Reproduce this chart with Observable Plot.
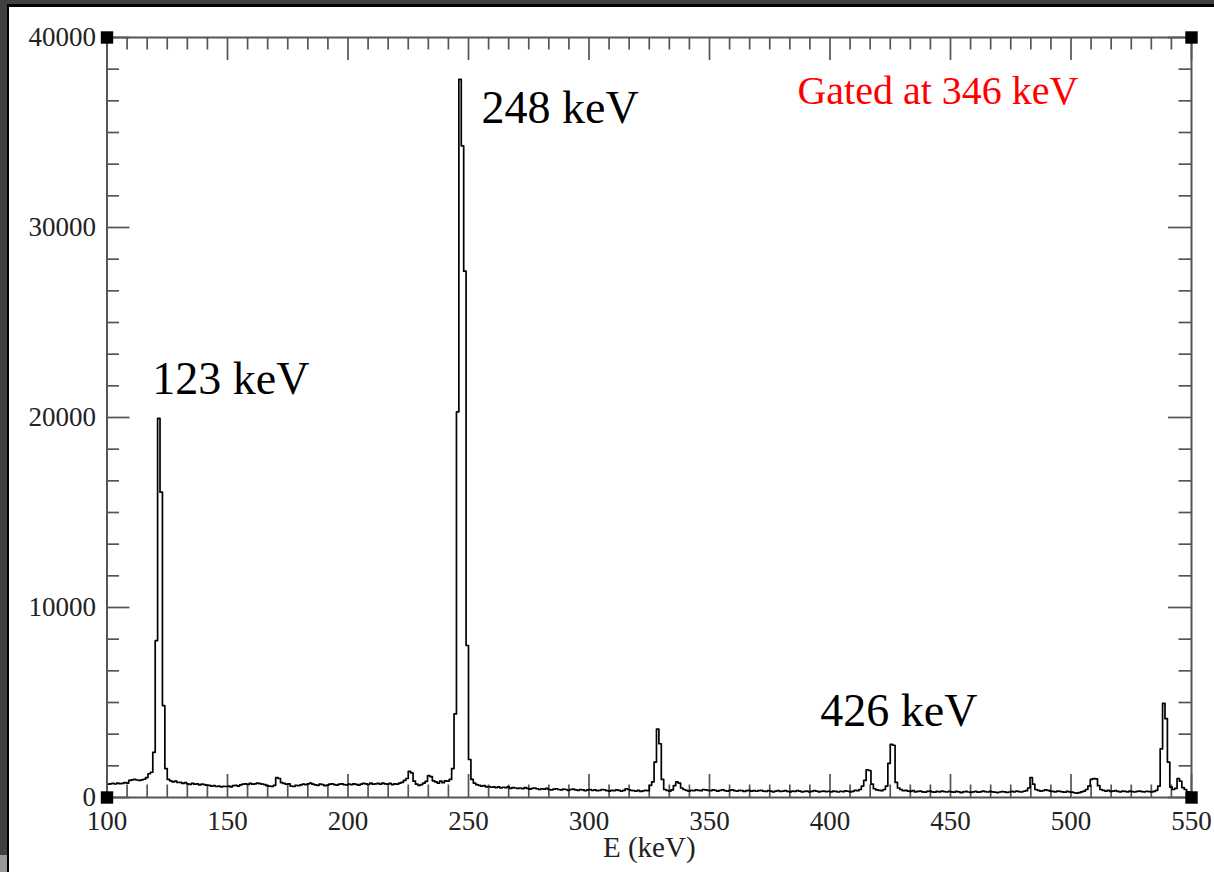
<!DOCTYPE html>
<html>
<head>
<meta charset="utf-8">
<script src="https://cdn.jsdelivr.net/npm/d3@7"></script>
<script src="https://cdn.jsdelivr.net/npm/@observablehq/plot@0.6"></script>
<style>
  html, body { margin: 0; padding: 0; background: #fff; }
  #wrap { position: relative; width: 1214px; height: 872px; overflow: hidden; background: #fff; }
  #chart { position: absolute; left: 0; top: 0; }
  #chart svg, #chart svg text { font-family: "Liberation Serif", "DejaVu Serif", serif !important; }
  .bd { position: absolute; }
</style>
</head>
<body>
<div id="wrap">
  <div id="chart"></div>
  <div class="bd" style="left:0;top:0;width:1214px;height:4px;background:#404040"></div>
  <div class="bd" style="left:0;top:4px;width:1214px;height:2.5px;background:#000"></div>
  <div class="bd" style="left:0;top:0;width:6.5px;height:855px;background:#404040"></div>
  <div class="bd" style="left:0;top:855px;width:6.5px;height:17px;background:#9a9a9a"></div>
  <div class="bd" style="left:6.5px;top:4px;width:2px;height:868px;background:#000"></div>
</div>
<script>
// Energy bins (keV, 1 keV wide), starting at 100 keV
const binStart = 100;
const counts = [
  700, 720, 740, 710, 760, 730, 740, 780, 760, 900,        // 100
  930, 950, 920, 900, 930, 960, 1050, 1250, 1330, 2380,    // 110
  8260, 19950, 16070, 4840, 1520, 950, 880, 820, 860, 790, // 120
  800, 740, 780, 720, 690, 740, 700, 720, 660, 700,        // 130
  680, 650, 640, 600, 620, 580, 600, 560, 590, 580,        // 140
  600, 560, 620, 640, 600, 660, 700, 720, 690, 740,        // 150
  700, 720, 760, 730, 700, 680, 620, 600, 580, 640,        // 160
  1050, 1000, 780, 740, 700, 720, 600, 580, 640, 620,      // 170
  660, 700, 680, 720, 760, 700, 660, 640, 700, 680,        // 180
  620, 650, 700, 720, 680, 650, 700, 720, 680, 660,        // 190
  700, 680, 720, 690, 650, 700, 740, 720, 690, 760,        // 200
  700, 720, 740, 700, 760, 720, 700, 740, 680, 720,        // 210
  700, 760, 800, 900, 1000, 1380, 1300, 860, 700, 640,     // 220
  680, 760, 850, 1150, 1100, 880, 820, 760, 860, 780,      // 230
  880, 860, 950, 1520, 4400, 20300, 37800, 34300, 27700, 8000, // 240
  2000, 950, 760, 680, 640, 600, 620, 560, 580, 540,       // 250
  560, 520, 560, 500, 540, 520, 560, 480, 520, 500,        // 260
  480, 500, 460, 520, 480, 440, 480, 500, 460, 420,        // 270
  460, 440, 480, 420, 400, 440, 460, 420, 400, 440,        // 280
  420, 380, 420, 440, 400, 380, 420, 400, 360, 400,        // 290
  420, 380, 400, 360, 380, 420, 400, 360, 340, 380,        // 300
  360, 400, 380, 340, 370, 460, 420, 380, 360, 340,        // 310
  370, 320, 350, 380, 360, 640, 820, 1860, 3600, 2830,     // 320
  950, 420, 380, 340, 400, 620, 820, 760, 500, 420,        // 330
  380, 340, 380, 360, 400, 380, 360, 420, 400, 380,        // 340
  360, 400, 380, 340, 380, 400, 360, 340, 380, 400,        // 350
  360, 340, 380, 360, 320, 360, 380, 340, 360, 330,        // 360
  360, 380, 340, 320, 360, 340, 300, 340, 360, 320,        // 370
  340, 360, 320, 300, 340, 320, 360, 340, 300, 320,        // 380
  340, 300, 320, 360, 340, 300, 320, 340, 310, 330,        // 390
  300, 340, 320, 290, 330, 310, 350, 330, 300, 320,        // 400
  380, 360, 420, 600, 900, 1460, 1420, 700, 460, 400,      // 410
  380, 360, 420, 600, 1800, 2800, 2750, 800, 500, 420,     // 420
  360, 380, 340, 320, 360, 300, 320, 340, 300, 280,        // 430
  320, 340, 300, 280, 320, 300, 340, 310, 290, 320,        // 440
  300, 280, 320, 300, 260, 300, 320, 290, 270, 300,        // 450
  320, 280, 300, 340, 310, 290, 320, 300, 280, 260,        // 460
  290, 310, 300, 270, 290, 320, 300, 340, 310, 290,        // 470
  330, 360, 500, 1050, 700, 420, 380, 340, 360, 400,       // 480
  380, 340, 320, 300, 340, 320, 300, 280, 320, 300,        // 490
  280, 250, 230, 260, 300, 340, 420, 600, 950, 1000,       // 500
  980, 620, 420, 380, 340, 380, 320, 340, 360, 320,        // 510
  300, 340, 320, 300, 340, 310, 290, 320, 340, 310,        // 520
  300, 330, 310, 290, 320, 380, 600, 2560, 4950, 4150,     // 530
  1860, 550, 420, 480, 1000, 860, 520, 420, 300, 280       // 540
];
const xDomain = [100, 550];
const yDomain = [0, 40000];
const xMajor = [100, 150, 200, 250, 300, 350, 400, 450, 500, 550];
const yMajor = [0, 10000, 20000, 30000, 40000];
const xMinorPerMajor = 5;
const yMinorPerMajor = 5;
const annotations = [
  {text: "248 keV", e: 255.4, c: 36300, color: "#000", size: 46},
  {text: "123 keV", e: 118.8, c: 22000, color: "#000", size: 46},
  {text: "426 keV", e: 396.0, c: 4550, color: "#000", size: 46},
  {text: "Gated at 346 keV", e: 386.5, c: 37200, color: "#ff0000", size: 40}
];
const xLabel = "E (keV)";

// build data
const spectrum = counts.map((c, i) => ({e: binStart + i, c}));
spectrum.push({e: binStart + counts.length, c: counts[counts.length - 1]});

function minorTicks(major, n) {
  const out = [];
  for (let i = 0; i < major.length - 1; i++) {
    const a = major[i], b = major[i + 1];
    for (let k = 1; k <= n; k++) out.push(a + (b - a) * k / (n + 1));
  }
  return out;
}
const xMinor = minorTicks(xMajor, xMinorPerMajor);
const yMinor = minorTicks(yMajor, yMinorPerMajor);

const W = 1214, H = 872;
const mL = 106.5, mR = 23, mT = 37, mB = 75;
const pw = W - mL - mR, ph = H - mT - mB;
const tickCol = "#555";
const majLen = 23, minLen = 12.5;
const serif = "Liberation Serif";

const corners = [
  {e: xDomain[0], c: yDomain[0]}, {e: xDomain[1], c: yDomain[0]},
  {e: xDomain[0], c: yDomain[1]}, {e: xDomain[1], c: yDomain[1]}
];

const plot = Plot.plot({
  width: W, height: H,
  marginLeft: mL, marginRight: mR, marginTop: mT, marginBottom: mB,
  style: {fontFamily: serif, fontSize: "27px", color: "#222", background: "transparent"},
  x: {domain: xDomain, label: null},
  y: {domain: yDomain, label: null},
  marks: [
    Plot.axisX(xMajor, {anchor: "bottom", tickSize: 0, tickPadding: 13, tickFormat: d3.format("d"), fontSize: 27, fontFamily: serif, fill: "#222", label: null}),
    Plot.axisY(yMajor, {anchor: "left", tickSize: 0, tickPadding: 11, tickFormat: d3.format("d"), fontSize: 27, fontFamily: serif, fill: "#222", label: null}),
    // ticks (inward) on all four sides
    Plot.ruleX(xMajor, {stroke: tickCol, strokeWidth: 1.7, insetTop: ph - majLen}),
    Plot.ruleX(xMinor, {stroke: tickCol, strokeWidth: 1.7, insetTop: ph - minLen}),
    Plot.ruleX(xMajor, {stroke: tickCol, strokeWidth: 1.7, insetBottom: ph - majLen}),
    Plot.ruleX(xMinor, {stroke: tickCol, strokeWidth: 1.7, insetBottom: ph - minLen}),
    Plot.ruleY(yMajor, {stroke: tickCol, strokeWidth: 1.7, insetRight: pw - majLen}),
    Plot.ruleY(yMinor, {stroke: tickCol, strokeWidth: 1.7, insetRight: pw - minLen}),
    Plot.ruleY(yMajor, {stroke: tickCol, strokeWidth: 1.7, insetLeft: pw - majLen}),
    Plot.ruleY(yMinor, {stroke: tickCol, strokeWidth: 1.7, insetLeft: pw - minLen}),
    Plot.line(spectrum, {x: "e", y: "c", curve: "step-after", stroke: "#000", strokeWidth: 1.7}),
    Plot.frame({stroke: tickCol, strokeWidth: 2}),
    Plot.dot(corners, {x: "e", y: "c", symbol: "square", r: 7, fill: "#000", stroke: "none"}),
    Plot.text(annotations, {x: "e", y: "c", text: "text", fill: "color", fontSize: "size", fontFamily: serif, textAnchor: "start"}),
    Plot.text([xLabel], {frameAnchor: "bottom", dy: 59, fontSize: 29, fontFamily: serif, fill: "#222"})
  ]
});
document.getElementById("chart").appendChild(plot);
</script>
</body>
</html>
